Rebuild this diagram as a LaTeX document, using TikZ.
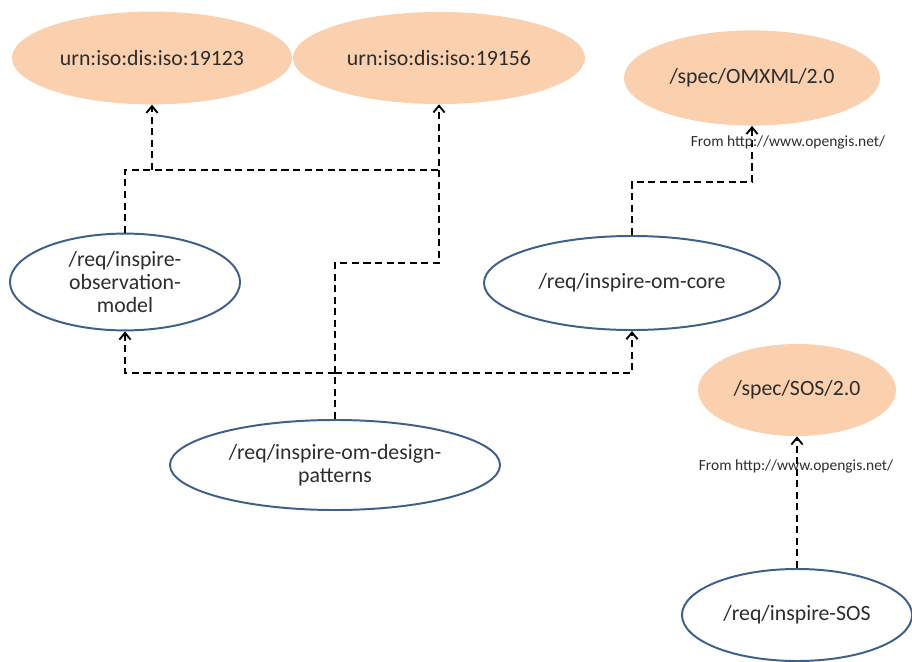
\documentclass[tikz,border=0pt]{standalone}
\usepackage{fontspec}
\setmainfont{Carlito}
\usetikzlibrary{shapes.geometric,arrows.meta}

\definecolor{specfill}{RGB}{250,208,174}
\definecolor{reqline}{RGB}{64,96,140}
\definecolor{txtgray}{RGB}{45,45,45}

\begin{document}
\begin{tikzpicture}[x=0.025cm, y=-0.025cm,
    spec/.style={ellipse, fill=specfill, draw=none, inner sep=0pt,
      font=\fontsize{15.5}{16.5}\selectfont, text=txtgray},
    req/.style={ellipse, draw=reqline, line width=1.4pt, fill=white, inner sep=0pt,
      align=center, font=\fontsize{15.5}{16.5}\selectfont, text=txtgray},
    fromlbl/.style={font=\fontsize{11}{13}\selectfont, text=txtgray, inner sep=1pt},
    dep/.style={line width=1.3pt, dash pattern=on 5pt off 3.2pt},
    deparrow/.style={dep, -{Straight Barb[length=1.7mm, width=2.8mm]}}]

      \useasboundingbox (0,0) rectangle (912,662) ;

      \node [spec, minimum width=7cm, minimum height=2.32cm] (iso1) at (152,58) {urn:iso:dis:iso:19123} ;
      \node [spec, minimum width=7.3cm, minimum height=2.3cm] (iso2) at (439,58) {urn:iso:dis:iso:19156} ;
      \node [spec, minimum width=6.4cm, minimum height=2.38cm] (omx) at (752,78) {/spec/OMXML/2.0} ;
      \node [spec, minimum width=4.95cm, minimum height=2.3cm] (soss) at (797,390) {/spec/SOS/2.0} ;

      \node [req, minimum width=5.75cm, minimum height=2.42cm] (obs) at (125,282) {/req/inspire-\\observation-\\model} ;
      \node [req, minimum width=7.4cm, minimum height=2.35cm] (core) at (632,283) {/req/inspire-om-core} ;
      \node [req, minimum width=8.25cm, minimum height=2.25cm] (dp) at (335,465) {/req/inspire-om-design-\\patterns} ;
      \node [req, minimum width=5.75cm, minimum height=2.3cm] (sosr) at (797,615) {/req/inspire-SOS} ;

      \coordinate (lvA) at (0,170) ;
      \coordinate (lvB) at (0,263) ;
      \coordinate (lvC) at (0,373) ;
      \coordinate (lvD) at (0,182) ;

      \draw [dep] (obs.north) |- (lvA -| iso2) ;
      \draw [deparrow] (lvA -| iso1) -- (iso1.south) ;
      \draw [deparrow] (dp.north) |- (lvB -| iso2) -- (iso2.south) ;

      \draw [deparrow] (dp.north |- lvC) -| (obs.south) ;
      \draw [deparrow] (dp.north |- lvC) -| (core.south) ;

      \draw [deparrow] (core.north) |- (lvD -| omx) -- (omx.south) ;
      \draw [deparrow] (sosr.north) -- (soss.south) ;

      \node [fromlbl] (frm1) at (788,142) {From http://www.opengis.net/} ;
      \node [fromlbl] (frm2) at (796,466) {From http://www.opengis.net/} ;
    \end{tikzpicture}
\end{document}
